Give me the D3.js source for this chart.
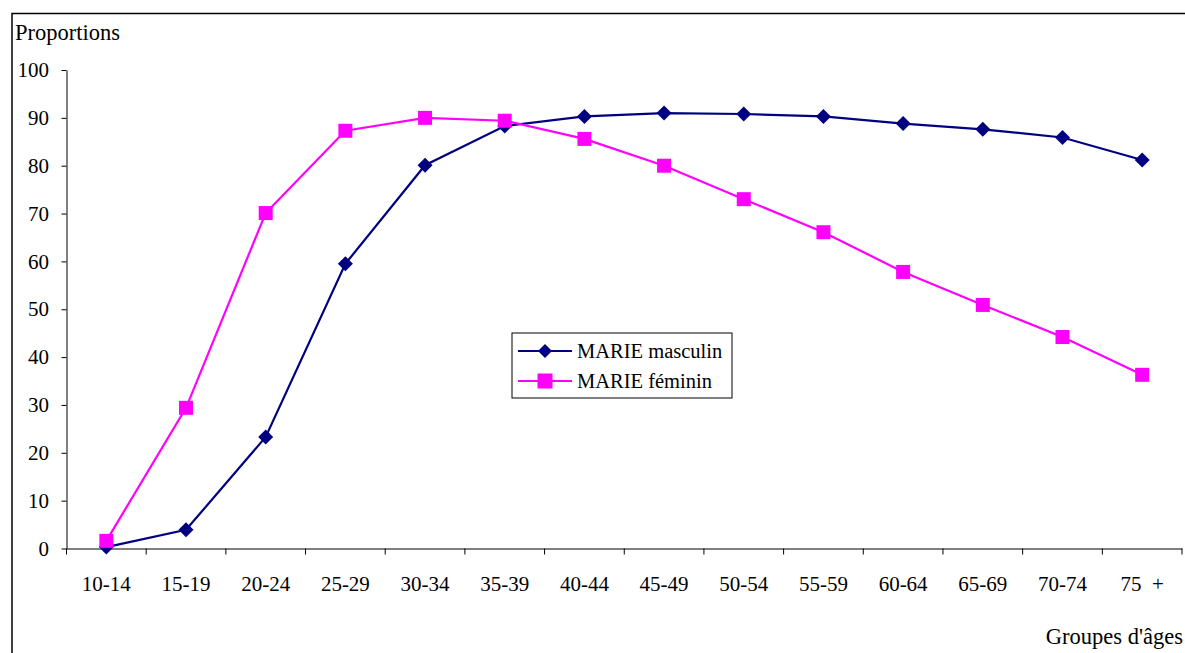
<!DOCTYPE html>
<html>
<head>
<meta charset="utf-8">
<script src="https://cdn.jsdelivr.net/npm/d3@7"></script>
<style>
  html, body { margin: 0; padding: 0; background: #fff; }
  svg { display: block; font-family: "Liberation Serif", "Times New Roman", serif; }
</style>
</head>
<body>
<svg id="chart" width="1185" height="653"></svg>
<script>
// Age groups and proportions married (%) by sex
const categories = ["10-14", "15-19", "20-24", "25-29", "30-34", "35-39", "40-44",
                    "45-49", "50-54", "55-59", "60-64", "65-69", "70-74", "75  +"];
const masculin = [0.3, 3.9, 23.3, 59.5, 80.1, 88.3, 90.3, 91.0, 90.8, 90.3, 88.8, 87.6, 85.9, 81.2];
const feminin  = [1.6, 29.4, 70.1, 87.3, 90.0, 89.4, 85.6, 80.0, 73.0, 66.1, 57.8, 50.9, 44.2, 36.3];
const yTicks = [0, 10, 20, 30, 40, 50, 60, 70, 80, 90, 100];

const seriesNames = ["MARIE masculin", "MARIE féminin"];
const seriesColors = ["#000080", "#FF00FF"];

const svg = d3.select("#chart");
const fontSize = 21;
const titleSize = 22.5;

// Outer frame (top and left edges visible)
svg.append("path")
  .attr("d", "M12,653 L12,13.5 L1185,13.5")
  .attr("fill", "none").attr("stroke", "#000").attr("stroke-width", 1.5);

const x = d3.scaleBand().domain(categories).range([66.5, 1182]).padding(0);
const y = d3.scaleLinear().domain([0, 100]).range([548.5, 70]);
const cx = c => x(c) + x.bandwidth() / 2;

// Y axis
const yAxis = svg.append("g")
  .attr("transform", "translate(66.5,0)")
  .call(d3.axisLeft(y).tickValues(yTicks).tickSize(5).tickPadding(12.5).tickSizeOuter(0));
yAxis.select(".domain").attr("stroke", "#000");
yAxis.selectAll(".tick line").attr("stroke", "#000");
yAxis.selectAll(".tick text").attr("font-size", fontSize).attr("font-family", "Liberation Serif").attr("fill", "#000");

// X axis: category labels centred in bands, tick marks on band boundaries
const xAxis = svg.append("g")
  .attr("transform", `translate(0,${y(0)})`)
  .call(d3.axisBottom(x).tickSize(0).tickPadding(27.5).tickSizeOuter(0));
xAxis.select(".domain").attr("stroke", "#000");
xAxis.selectAll(".tick text")
  .attr("font-size", fontSize).attr("font-family", "Liberation Serif").attr("fill", "#000")
  .style("white-space", "pre");

const boundaries = categories.map(c => x(c)).concat([x.range()[1]]);
xAxis.selectAll(".btick").data(boundaries).enter().append("line")
  .attr("class", "btick")
  .attr("x1", d => d).attr("x2", d => d)
  .attr("y1", 0).attr("y2", 6)
  .attr("stroke", "#000");

// Axis titles
svg.append("text").attr("x", 15).attr("y", 40)
  .attr("font-size", titleSize).text("Proportions");
svg.append("text").attr("x", 1183).attr("y", 644)
  .attr("text-anchor", "end")
  .attr("font-size", titleSize).text("Groupes d'âges");

// Lines and markers
const line = d3.line().x((d, i) => cx(categories[i])).y(d => y(d));
const data = [masculin, feminin];

const diamond = s => `M0,${-s} L${s},0 L0,${s} L${-s},0 Z`;
const square = s => `M${-s},${-s} H${s} V${s} H${-s} Z`;
const markerPaths = [diamond(7.5), square(7)];

data.forEach((vals, k) => {
  svg.append("path")
    .datum(vals)
    .attr("d", line)
    .attr("fill", "none")
    .attr("stroke", seriesColors[k])
    .attr("stroke-width", 2.2);
});
data.forEach((vals, k) => {
  svg.append("g").selectAll("path").data(vals).enter().append("path")
    .attr("transform", (d, i) => `translate(${cx(categories[i])},${y(d)})`)
    .attr("d", markerPaths[k])
    .attr("fill", seriesColors[k]);
});

// Legend
const legend = svg.append("g");
legend.append("rect")
  .attr("x", 512).attr("y", 333).attr("width", 220).attr("height", 65)
  .attr("fill", "#fff").attr("stroke", "#000").attr("stroke-width", 1);
seriesNames.forEach((name, k) => {
  const ly = 351 + k * 30;
  legend.append("line")
    .attr("x1", 518).attr("x2", 572).attr("y1", ly).attr("y2", ly)
    .attr("stroke", seriesColors[k]).attr("stroke-width", 2.2);
  legend.append("path")
    .attr("transform", `translate(545,${ly})`)
    .attr("d", k === 0 ? diamond(7) : square(7.5))
    .attr("fill", seriesColors[k]);
  legend.append("text")
    .attr("x", 577).attr("y", ly + 7)
    .attr("font-size", 20.5).text(name);
});
</script>
</body>
</html>
